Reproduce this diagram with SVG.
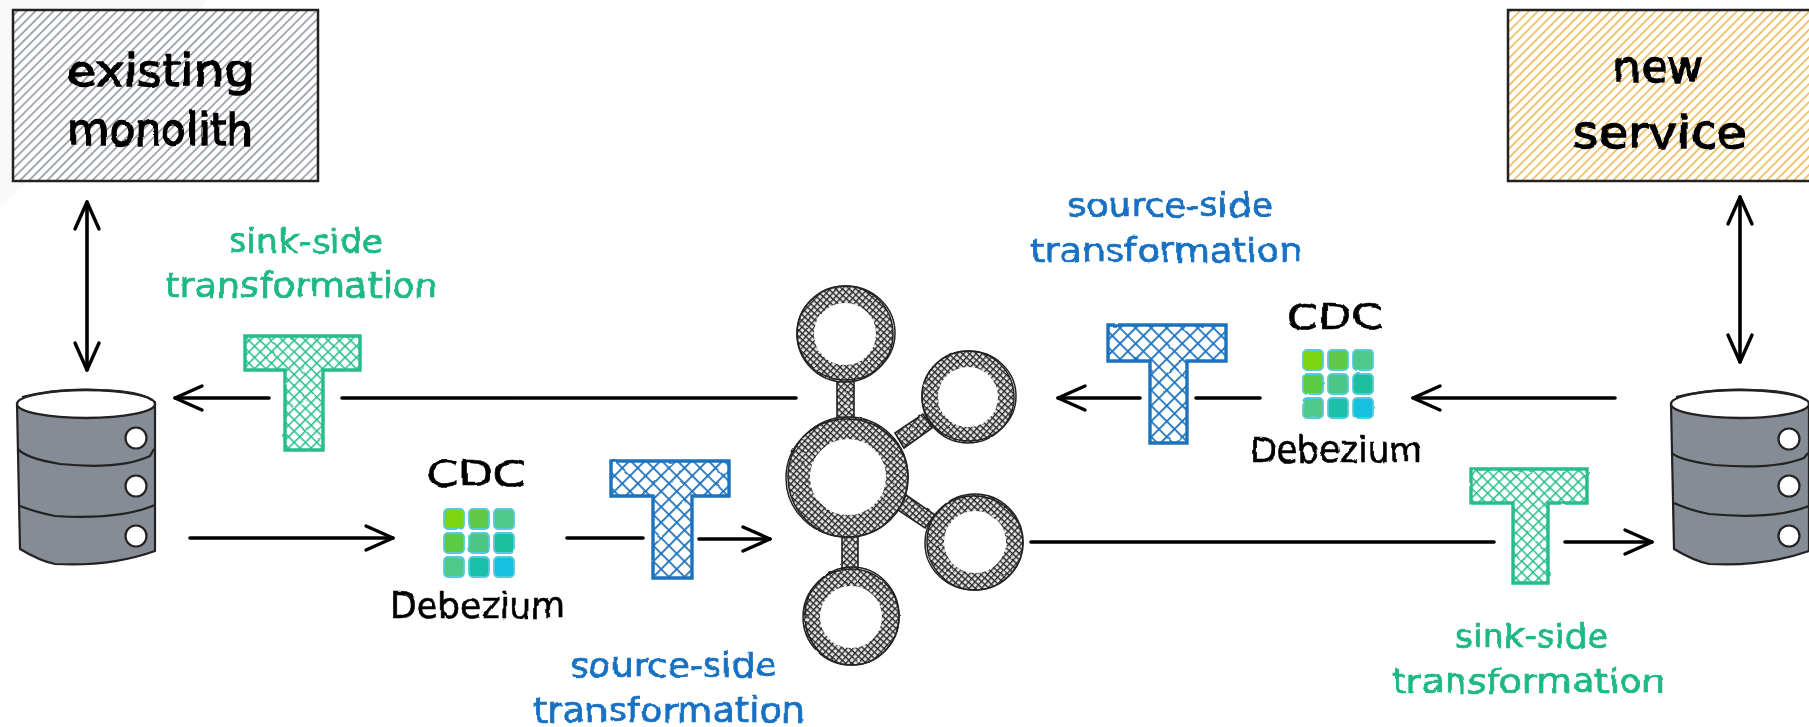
<svg xmlns="http://www.w3.org/2000/svg" width="1809" height="727" viewBox="0 0 1809 727">
<style>
text{font-family:"DejaVu Sans","Liberation Sans",sans-serif;filter:url(#wob)}
.lab{font-size:44px;fill:#000;stroke:#000;stroke-width:1.4px}
.cd{font-size:36px;fill:#000;stroke:#000;stroke-width:.6px}
.g{font-size:34px;fill:#1cb885;stroke:#1cb885;stroke-width:.7px}
.b{font-size:34px;fill:#1971c2;stroke:#1971c2;stroke-width:.7px}
.frame{stroke:#222;stroke-width:2.5}
.ln{fill:none;stroke:#000;stroke-width:3.6;stroke-linecap:round}
.tg{fill:url(#xg);stroke:#25bd8b;stroke-width:3.4;filter:url(#soft)}
.tb{fill:url(#xb);stroke:#1d72bd;stroke-width:3.4;filter:url(#soft)}
.body{fill:#858c95;stroke:#222;stroke-width:2.2;stroke-linejoin:round}
.top{fill:#fff;stroke:#222;stroke-width:2.4}
.band{fill:none;stroke:#222;stroke-width:2.2}
.hole{fill:#fff;stroke:#222;stroke-width:2.2}
.ring{fill:none;stroke:url(#xk)}
.out{fill:none;stroke:#222;stroke-width:1.5}
.bar{fill:url(#xk);stroke:#222;stroke-width:1.6}
.cell{stroke:#58cbd8;stroke-width:1.8}
</style>
<defs>
<filter id="wob" x="-5%" y="-20%" width="110%" height="140%"><feTurbulence type="fractalNoise" baseFrequency="0.035" numOctaves="2" seed="4"/><feDisplacementMap in="SourceGraphic" scale="5" xChannelSelector="R" yChannelSelector="G"/><feGaussianBlur stdDeviation="0.4"/></filter>
<filter id="soft" x="-5%" y="-5%" width="110%" height="110%"><feTurbulence type="fractalNoise" baseFrequency="0.09" numOctaves="2" seed="9"/><feDisplacementMap in="SourceGraphic" scale="1.8" xChannelSelector="R" yChannelSelector="G"/><feGaussianBlur stdDeviation="0.4"/></filter>
<filter id="blur"><feGaussianBlur stdDeviation="0.5"/></filter>
<pattern id="hg" width="6.4" height="6.4" patternUnits="userSpaceOnUse" patternTransform="rotate(45)"><rect width="6.4" height="6.4" fill="#fff"/><rect width="1.9" height="6.4" fill="#a2a7ae"/></pattern>
<pattern id="ho" width="6.4" height="6.4" patternUnits="userSpaceOnUse" patternTransform="rotate(45)"><rect width="6.4" height="6.4" fill="#fff"/><rect width="1.9" height="6.4" fill="#efc26d"/></pattern>
<pattern id="xg" width="8" height="8" patternUnits="userSpaceOnUse" patternTransform="rotate(45)"><rect width="8" height="8" fill="#fff"/><path d="M0,0H8M0,0V8" stroke="#25bd8b" stroke-width="3" fill="none"/></pattern>
<pattern id="xb" width="11" height="11" patternUnits="userSpaceOnUse" patternTransform="rotate(45)"><rect width="11" height="11" fill="#fff"/><path d="M0,0H11M0,0V11" stroke="#1d72bd" stroke-width="3.6" fill="none"/></pattern>
<pattern id="xk" width="4.6" height="4.6" patternUnits="userSpaceOnUse" patternTransform="rotate(42)"><rect width="4.6" height="4.6" fill="#e4e4e4"/><path d="M0,0H4.6M0,0V4.6" stroke="#262626" stroke-width="2.6" fill="none"/></pattern>
<marker id="ah" markerUnits="userSpaceOnUse" viewBox="-34 -16 38 32" refX="0" refY="0" markerWidth="38" markerHeight="32" orient="auto-start-reverse"><path d="M-27,-12L0,0L-27,12" fill="none" stroke="#000" stroke-width="3.4" stroke-linecap="round" stroke-linejoin="round"/></marker>
</defs>
<rect width="1809" height="727" fill="#fff"/>
<polygon points="0,0 208,0 0,207" fill="#f9f9f9"/>

<g id="connectors" filter="url(#blur)">
<path class="ln" d="M87,202V370" marker-start="url(#ah)" marker-end="url(#ah)"/>
<path class="ln" d="M1740,197V362" marker-start="url(#ah)" marker-end="url(#ah)"/>
<path class="ln" d="M342,398H796"/>
<path class="ln" d="M269,398H175" marker-end="url(#ah)"/>
<path class="ln" d="M190,538H393" marker-end="url(#ah)"/>
<path class="ln" d="M567,538H643"/>
<path class="ln" d="M699,539H770" marker-end="url(#ah)"/>
<path class="ln" d="M1615,398H1413" marker-end="url(#ah)"/>
<path class="ln" d="M1260,398H1196"/>
<path class="ln" d="M1140,398H1058" marker-end="url(#ah)"/>
<path class="ln" d="M1031,542H1494"/>
<path class="ln" d="M1565,542H1652" marker-end="url(#ah)"/>
</g>

<g id="monolith">
<rect class="frame" x="13" y="10" width="305" height="171" fill="url(#hg)"/>
<text class="lab" x="67" y="86" textLength="187" lengthAdjust="spacingAndGlyphs">existing</text>
<text class="lab" x="68" y="145" textLength="185" lengthAdjust="spacingAndGlyphs">monolith</text>
</g>

<g id="service">
<rect class="frame" x="1508" y="10" width="305" height="171" fill="url(#ho)"/>
<text class="lab" x="1613" y="82" textLength="90" lengthAdjust="spacingAndGlyphs">new</text>
<text class="lab" x="1573" y="148" textLength="174" lengthAdjust="spacingAndGlyphs">service</text>
</g>

<g id="db-left" filter="url(#blur)">
<path class="body" d="M17,404L20,549Q40,561 55,564Q110,567 155,551L155,402Z"/>
<ellipse class="top" cx="86" cy="404" rx="69" ry="14"/>
<path class="band" d="M22,397Q60,388 100,390Q140,391 152,400" stroke-width="3"/>
<path class="band" d="M18,449Q25,458 60,464Q120,470 150,456L154,449"/>
<path class="band" d="M20,506Q35,512 55,516Q120,520 155,505"/>
<circle class="hole" cx="136" cy="438" r="10.5"/>
<circle class="hole" cx="136" cy="486" r="10.5"/>
<circle class="hole" cx="136" cy="536" r="10.5"/>
</g>

<g id="db-right" filter="url(#blur)">
<path class="body" d="M1671,404L1674,549Q1694,561 1709,564Q1764,567 1809,551L1809,402Z"/>
<ellipse class="top" cx="1740" cy="404" rx="69" ry="14"/>
<path class="band" d="M1676,397Q1714,388 1754,390Q1794,391 1806,400" stroke-width="3"/>
<path class="band" d="M1672,453Q1679,460 1714,465Q1774,470 1804,458L1808,453"/>
<path class="band" d="M1674,503Q1689,510 1709,514Q1774,520 1809,506"/>
<circle class="hole" cx="1789" cy="439" r="10.5"/>
<circle class="hole" cx="1789" cy="486" r="10.5"/>
<circle class="hole" cx="1789" cy="536" r="10.5"/>
</g>

<g id="sink-left">
<path class="tg" d="M245,336H360V370H323V450H285V370H245Z"/>
<text class="g" x="229" y="253" textLength="154" lengthAdjust="spacingAndGlyphs">sink-side</text>
<text class="g" x="165" y="297" textLength="273" lengthAdjust="spacingAndGlyphs">transformation</text>
</g>

<g id="sink-right">
<path class="tg" d="M1471,469H1587V503H1548V583H1513V503H1471Z"/>
<text class="g" x="1455" y="648" textLength="153" lengthAdjust="spacingAndGlyphs">sink-side</text>
<text class="g" x="1392" y="693" textLength="273" lengthAdjust="spacingAndGlyphs">transformation</text>
</g>

<g id="source-left">
<path class="tb" d="M611,461H729V496H692V578H653V496H611Z"/>
<text class="b" x="570" y="677" textLength="207" lengthAdjust="spacingAndGlyphs">source-side</text>
<text class="b" x="533" y="722" textLength="272" lengthAdjust="spacingAndGlyphs">transformation</text>
</g>

<g id="source-right">
<path class="tb" d="M1108,325H1226V361H1187V443H1150V361H1108Z"/>
<text class="b" x="1067" y="217" textLength="206" lengthAdjust="spacingAndGlyphs">source-side</text>
<text class="b" x="1030" y="262" textLength="273" lengthAdjust="spacingAndGlyphs">transformation</text>
</g>

<g id="debezium-left">
<text class="cd" x="427" y="486" textLength="98" lengthAdjust="spacingAndGlyphs">CDC</text>
<g filter="url(#soft)">
<rect class="cell" x="444" y="509" width="20" height="20" rx="4" fill="#7dd60f"/>
<rect class="cell" x="469" y="509" width="20" height="20" rx="4" fill="#60c94a"/>
<rect class="cell" x="494" y="509" width="20" height="20" rx="4" fill="#4ec98a"/>
<rect class="cell" x="444" y="533" width="20" height="20" rx="4" fill="#5acb42"/>
<rect class="cell" x="469" y="533" width="20" height="20" rx="4" fill="#4cc684"/>
<rect class="cell" x="494" y="533" width="20" height="20" rx="4" fill="#1fc0a0"/>
<rect class="cell" x="444" y="557" width="20" height="20" rx="4" fill="#4ec98a"/>
<rect class="cell" x="469" y="557" width="20" height="20" rx="4" fill="#1fc0a8"/>
<rect class="cell" x="494" y="557" width="20" height="20" rx="4" fill="#14c0e0"/>
</g>
<text class="cd" x="390" y="618" textLength="175" lengthAdjust="spacingAndGlyphs">Debezium</text>
</g>

<g id="debezium-right">
<text class="cd" x="1287" y="329" textLength="96" lengthAdjust="spacingAndGlyphs">CDC</text>
<g filter="url(#soft)">
<rect class="cell" x="1303" y="350" width="20" height="20" rx="4" fill="#7dd60f"/>
<rect class="cell" x="1328" y="350" width="20" height="20" rx="4" fill="#60c94a"/>
<rect class="cell" x="1353" y="350" width="20" height="20" rx="4" fill="#4ec98a"/>
<rect class="cell" x="1303" y="374" width="20" height="20" rx="4" fill="#5acb42"/>
<rect class="cell" x="1328" y="374" width="20" height="20" rx="4" fill="#4cc684"/>
<rect class="cell" x="1353" y="374" width="20" height="20" rx="4" fill="#1fc0a0"/>
<rect class="cell" x="1303" y="398" width="20" height="20" rx="4" fill="#4ec98a"/>
<rect class="cell" x="1328" y="398" width="20" height="20" rx="4" fill="#1fc0a8"/>
<rect class="cell" x="1353" y="398" width="20" height="20" rx="4" fill="#14c0e0"/>
</g>
<text class="cd" x="1250" y="462" textLength="173" lengthAdjust="spacingAndGlyphs">Debezium</text>
</g>

<g id="kafka" filter="url(#soft)">
<rect class="bar" x="837" y="380" width="17" height="42"/>
<rect class="bar" x="842" y="534" width="16" height="38"/>
<polygon class="bar" points="895,433 923,414 932,428 904,448"/>
<polygon class="bar" points="906,495 935,515 925,528 898,510"/>
<circle class="ring" cx="845" cy="334" r="39.5" stroke-width="17"/>
<circle class="out" cx="845" cy="334" r="48"/><ellipse class="out" cx="846" cy="333" rx="49" ry="47"/>
<circle class="ring" cx="968" cy="397" r="38" stroke-width="16"/>
<circle class="out" cx="968" cy="397" r="46"/><ellipse class="out" cx="969" cy="396" rx="47" ry="45"/>
<circle class="ring" cx="848" cy="477" r="49" stroke-width="22"/>
<circle class="out" cx="848" cy="477" r="60"/><ellipse class="out" cx="847" cy="478" rx="61" ry="59"/>
<circle class="ring" cx="975" cy="542" r="39.5" stroke-width="17"/>
<circle class="out" cx="975" cy="542" r="48"/><ellipse class="out" cx="974" cy="543" rx="49" ry="47"/>
<circle class="ring" cx="851" cy="617" r="39.5" stroke-width="17"/>
<circle class="out" cx="851" cy="617" r="48"/><ellipse class="out" cx="852" cy="616" rx="47" ry="49"/>
</g>
</svg>
